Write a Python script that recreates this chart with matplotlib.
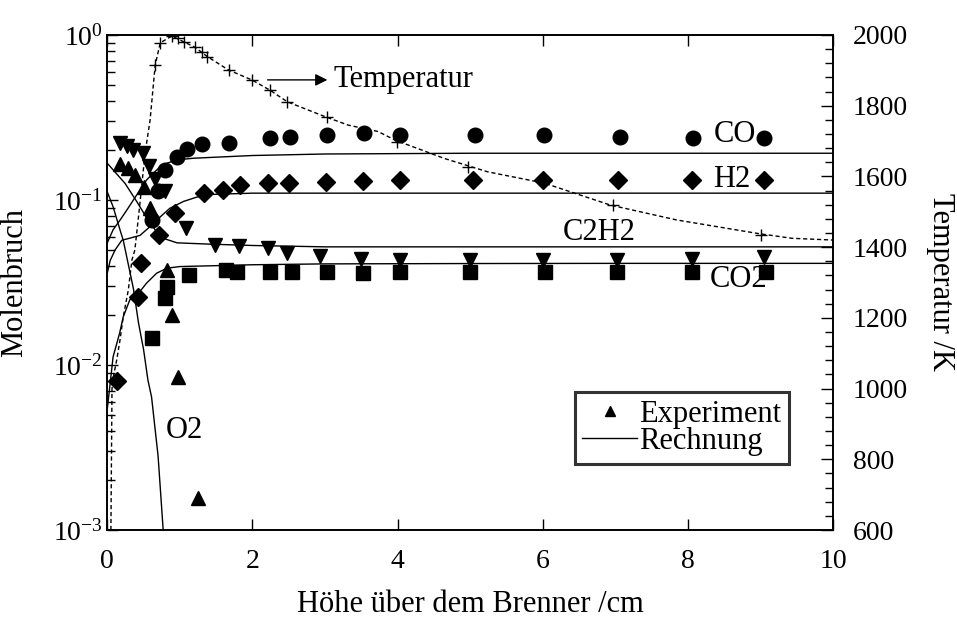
import numpy as np
import matplotlib
matplotlib.use("Agg")
import matplotlib.pyplot as plt
from matplotlib.lines import Line2D
from matplotlib.ticker import MultipleLocator, LogLocator, NullFormatter

plt.rcParams['font.family'] = ['Liberation Serif', 'DejaVu Serif']
plt.rcParams['mathtext.fontset'] = 'custom'
plt.rcParams['mathtext.rm'] = 'Liberation Serif'

co_x = [0.61, 0.70, 0.79, 0.96, 1.10, 1.30, 1.68, 2.24, 2.51, 3.03, 3.53, 4.03, 5.07, 6.01, 7.06, 8.07, 9.04]
co_y = [0.076, 0.114, 0.153, 0.183, 0.203, 0.218, 0.221, 0.237, 0.242, 0.248, 0.256, 0.248, 0.248, 0.248, 0.242, 0.236, 0.236]

h2_x = [0.13, 0.43, 0.47, 0.71, 0.93, 1.33, 1.60, 1.83, 2.22, 2.50, 3.01, 3.52, 4.03, 5.04, 6.00, 7.04, 8.06, 9.05]
h2_y = [0.0080, 0.026, 0.0417, 0.0614, 0.0838, 0.111, 0.115, 0.123, 0.126, 0.127, 0.129, 0.130, 0.132, 0.132, 0.132, 0.132, 0.132, 0.132]

c2h2_x = [0.18, 0.27, 0.36, 0.49, 0.57, 0.66, 0.80, 1.09, 1.48, 1.81, 2.22, 2.47, 2.93, 3.5, 4.03, 5.0, 6.0, 7.02, 8.05, 9.05]
c2h2_y = [0.220, 0.212, 0.201, 0.192, 0.160, 0.134, 0.114, 0.0674, 0.0534, 0.0527, 0.051, 0.0475, 0.0458, 0.044, 0.043, 0.043, 0.043, 0.043, 0.044, 0.045]

o2_x = [0.17, 0.29, 0.38, 0.50, 0.59, 0.82, 0.89, 0.98, 1.25]
o2_y = [0.165, 0.156, 0.142, 0.120, 0.089, 0.0377, 0.0201, 0.0085, 0.00156]

co2_x = [0.61, 0.79, 0.82, 1.12, 1.63, 1.78, 2.24, 2.54, 3.02, 3.52, 4.03, 5.0, 6.03, 7.02, 8.05, 9.07]
co2_y = [0.0145, 0.0254, 0.0298, 0.0351, 0.0376, 0.0365, 0.0368, 0.0365, 0.0365, 0.036, 0.0365, 0.0365, 0.0365, 0.0365, 0.0365, 0.0365]

t_x = [0.66, 0.73, 0.89, 0.98, 1.05, 1.21, 1.30, 1.37, 1.67, 1.99, 2.24, 2.48, 3.02, 3.99, 4.97, 6.97, 9.01]
t_y = [1915, 1978, 1997, 1991, 1981, 1967, 1953, 1939, 1901, 1873, 1844, 1811, 1769, 1698, 1628, 1519, 1434]

# Rechnung (Linien)
coc_x = [0, 0.08, 0.18, 0.27, 0.36, 0.45, 0.54, 0.63, 0.73, 0.82, 0.96, 1.18, 1.41, 2, 3, 5, 10]
coc_y = [0.055, 0.066, 0.076, 0.087, 0.100, 0.115, 0.132, 0.145, 0.159, 0.167, 0.175, 0.179, 0.181, 0.186, 0.190, 0.192, 0.192]

h2c_x = [0, 0.04, 0.11, 0.20, 0.33, 0.45, 0.59, 0.73, 0.86, 1.05, 1.23, 1.41, 2, 3, 10]
h2c_y = [0.036, 0.043, 0.050, 0.057, 0.059, 0.061, 0.069, 0.079, 0.089, 0.098, 0.104, 0.108, 0.110, 0.110, 0.110]

c2h2c_x = [0, 0.245, 0.405, 0.59, 0.75, 0.96, 1.41, 2, 3, 5, 7, 10]
c2h2c_y = [0.167, 0.126, 0.098, 0.072, 0.059, 0.055, 0.054, 0.053, 0.052, 0.052, 0.052, 0.052]

o2c_x = [0, 0.08, 0.175, 0.22, 0.36, 0.43, 0.50, 0.56, 0.61, 0.70, 0.77]
o2c_y = [0.112, 0.091, 0.066, 0.057, 0.029, 0.018, 0.0124, 0.0081, 0.0064, 0.0028, 0.0010]

co2c_x = [0, 0.08, 0.17, 0.22, 0.31, 0.43, 0.54, 0.68, 0.82, 1.0, 1.5, 2, 3, 5, 7, 10]
co2c_y = [0.0054, 0.0112, 0.0156, 0.0196, 0.0248, 0.0272, 0.0313, 0.036, 0.0386, 0.0395, 0.040, 0.0405, 0.041, 0.0412, 0.0413, 0.0413]

tc_x = [0.05, 0.065, 0.09, 0.13, 0.175, 0.22, 0.29, 0.34, 0.38, 0.45, 0.52, 0.59, 0.66, 0.73, 0.89, 1.05, 1.21,
        1.37, 1.67, 1.99, 2.24, 2.48, 3.0, 3.32, 3.73, 3.96, 4.64, 4.94, 5.24, 6.02, 6.93, 7.84, 8.95, 9.43, 10.0]
tc_y = [600, 1000, 1040, 1081, 1137, 1203, 1279, 1364, 1392, 1524, 1665, 1760, 1915, 1978, 1997, 1981, 1965,
        1940, 1901, 1873, 1844, 1811, 1769, 1745, 1727, 1703, 1651, 1632, 1613, 1581, 1519, 1477, 1439, 1425, 1420]

fig = plt.figure(figsize=(9.57, 6.17), dpi=100)
ax = fig.add_axes([0.1121, 0.1410, 0.7586, 0.8023])
ax2 = ax.twinx()

# Rechnung
for xs, ys in [(coc_x, coc_y), (h2c_x, h2c_y), (c2h2c_x, c2h2c_y), (o2c_x, o2c_y), (co2c_x, co2c_y)]:
    ax.plot(xs, ys, color='black', lw=1.0)

# Experiment
ax.plot(co_x, co_y, 'o', color='black', ms=10.5)
ax.plot(h2_x, h2_y, 'D', color='black', ms=9.5)
ax.plot(c2h2_x, c2h2_y, 'v', color='black', ms=10)
ax.plot(o2_x, o2_y, '^', color='black', ms=10)
ax.plot(co2_x, co2_y, 's', color='black', ms=9.5)

# Temperatur
ax2.plot(tc_x, tc_y, color='black', lw=1.0, linestyle=(0, (3, 2)))
ax2.plot(t_x, t_y, '+', color='black', ms=9, mew=1.0)

ax.set_xlim(0, 10)
ax.set_yscale('log')
ax.set_ylim(1e-3, 1)
ax2.set_ylim(600, 2000)

fs_tick = 20
fs_lab = 22
ax.xaxis.set_major_locator(MultipleLocator(2))
ax.yaxis.set_major_locator(LogLocator(base=10, numticks=10))
ax.yaxis.set_minor_locator(LogLocator(base=10, subs=np.arange(2, 10), numticks=20))
ax.yaxis.set_minor_formatter(NullFormatter())
ax2.yaxis.set_major_locator(MultipleLocator(200))
ax2.yaxis.set_minor_locator(MultipleLocator(40))

ax.tick_params(axis='x', which='major', direction='in', top=True, length=8, width=1, labelsize=fs_tick, pad=14)
ax.tick_params(axis='y', which='major', direction='in', right=False, length=8, width=1, labelsize=fs_tick, pad=3)
ax.tick_params(axis='y', which='minor', direction='in', right=False, length=5.5, width=1)
ax2.tick_params(axis='y', which='major', direction='in', length=9, width=1, labelsize=fs_tick, pad=14)
ax2.tick_params(axis='y', which='minor', direction='in', length=6, width=1)

for a in (ax, ax2):
    for s in a.spines.values():
        s.set_linewidth(1.2)

ax.set_xlabel('Höhe über dem Brenner /cm', fontsize=fs_lab, labelpad=11)
ax.set_ylabel('Molenbruch', fontsize=fs_lab, labelpad=17)
ax2.set_ylabel('Temperatur /K', fontsize=fs_lab, rotation=270, labelpad=34)

# Beschriftungen
ax.text(8.35, 0.248, 'CO', fontsize=fs_lab, va='center', ha='left')
ax.text(8.35, 0.134, 'H2', fontsize=fs_lab, va='center', ha='left')
ax.text(6.27, 0.0636, 'C2H2', fontsize=fs_lab, va='center', ha='left')
ax.text(8.30, 0.0332, 'CO2', fontsize=fs_lab, va='center', ha='left')
ax.text(0.80, 0.0040, 'O2', fontsize=fs_lab, va='center', ha='left')
ax2.annotate('', xy=(3.07, 1873), xytext=(2.17, 1873),
             arrowprops=dict(arrowstyle='-|>', color='black', lw=1.0, mutation_scale=18))
ax2.text(3.12, 1873, 'Temperatur', fontsize=fs_lab, va='center', ha='left')

handles = [Line2D([], [], marker='^', color='black', ls='none', ms=7),
           Line2D([], [], color='black', lw=1.0)]
leg = ax2.legend(handles, ['Experiment', 'Rechnung'], loc='upper left', bbox_to_anchor=(0.644, 0.279),
                 borderaxespad=0, fontsize=fs_lab, frameon=True, fancybox=False, handlelength=1.8,
                 handletextpad=0.05, labelspacing=-0.05, borderpad=0.25)
leg.get_frame().set_edgecolor('black')
leg.get_frame().set_linewidth(2.2)

fig.savefig('out.png', dpi=100)
